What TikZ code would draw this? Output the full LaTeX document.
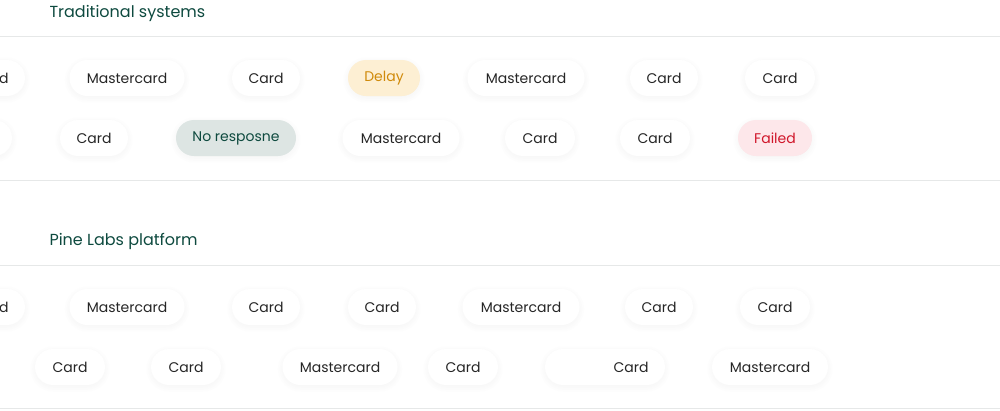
\documentclass[tikz,border=0pt]{standalone}
\usepackage{fontspec}
\setmainfont{Poppins}
\usetikzlibrary{shadows.blur}
\definecolor{ttl}{HTML}{0E4A3F}
\definecolor{ln}{HTML}{E6E8E8}
\tikzset{
 pill/.style={rounded corners=18pt,minimum height=36pt,inner xsep=0pt,fill=white,
   blur shadow={shadow blur steps=10,shadow xshift=0pt,shadow yshift=-2pt,shadow opacity=5,shadow blur radius=6pt,shadow blur extra rounding=6pt},
   font=\fontsize{14}{16}\selectfont,text=black!85},
 title/.style={anchor=west,font=\fontsize{16}{18}\selectfont,text=ttl},
 sep/.style={draw=ln,line width=1pt}
}
\begin{document}
\begin{tikzpicture}[x=1pt,y=-1pt]
\path[use as bounding box] (0,0) rectangle (1000,410);
\clip (0,0) rectangle (1000,410);
\node[title] (t1) at (46,13) {Traditional systems};
\node[title] (t2) at (46,241) {Pine Labs platform};
\coordinate (a1) at (0,36); \coordinate (b1) at (1000,36);
\coordinate (a2) at (0,180); \coordinate (b2) at (1000,180);
\coordinate (a3) at (0,265); \coordinate (b3) at (1000,265);
\coordinate (a4) at (0,408); \coordinate (b4) at (1000,408);
\draw[sep] (a1)--(b1); \draw[sep] (a2)--(b2); \draw[sep] (a3)--(b3); \draw[sep] (a4)--(b4);
% row 1
\node[pill,minimum width=68pt] (r1a) at (-9,78) {Card};
\node[pill,minimum width=115pt] (r1b) at (127,78) {Mastercard};
\node[pill,minimum width=68pt] (r1c) at (266,78) {Card};
\node[pill,minimum width=72pt,fill={rgb,255:red,253;green,239;blue,211},text={rgb,255:red,208;green,138;blue,10}] (r1d) at (384,78) {Delay};
\node[pill,minimum width=117pt] (r1e) at (526,78) {Mastercard};
\node[pill,minimum width=68pt] (r1f) at (664,78) {Card};
\node[pill,minimum width=70pt] (r1g) at (780,78) {Card};
% row 2
\node[pill,minimum width=68pt] (r2a) at (-22,138) {};
\node[pill,minimum width=68pt] (r2b) at (94,138) {Card};
\node[pill,minimum width=120pt,fill={rgb,255:red,221;green,229;blue,227},text=ttl] (r2c) at (236,138) {No resposne};
\node[pill,minimum width=117pt] (r2d) at (401,138) {Mastercard};
\node[pill,minimum width=70pt] (r2e) at (540,138) {Card};
\node[pill,minimum width=70pt] (r2f) at (655,138) {Card};
\node[pill,minimum width=74pt,fill={rgb,255:red,253;green,231;blue,234},text={rgb,255:red,208;green,22;blue,42}] (r2g) at (775,138) {Failed};
% row 3
\node[pill,minimum width=68pt] (r3a) at (-9,307) {Card};
\node[pill,minimum width=115pt] (r3b) at (127,307) {Mastercard};
\node[pill,minimum width=68pt] (r3c) at (266,307) {Card};
\node[pill,minimum width=68pt] (r3d) at (382,307) {Card};
\node[pill,minimum width=117pt] (r3e) at (521,307) {Mastercard};
\node[pill,minimum width=68pt] (r3f) at (659,307) {Card};
\node[pill,minimum width=70pt] (r3g) at (775,307) {Card};
% row 4
\node[pill,minimum width=70pt] (r4a) at (70,367) {Card};
\node[pill,minimum width=70pt] (r4b) at (186,367) {Card};
\node[pill,minimum width=115pt] (r4c) at (340,367) {Mastercard};
\node[pill,minimum width=70pt] (r4d) at (463,367) {Card};
\node[pill,minimum width=120pt] (r4e) at (605,367) {\phantom{Card}};
\node[font=\fontsize{14}{16}\selectfont,text=black!85] (r4et) at (631,367) {Card};
\node[pill,minimum width=116pt] (r4f) at (770,367) {Mastercard};
\end{tikzpicture}
\end{document}
